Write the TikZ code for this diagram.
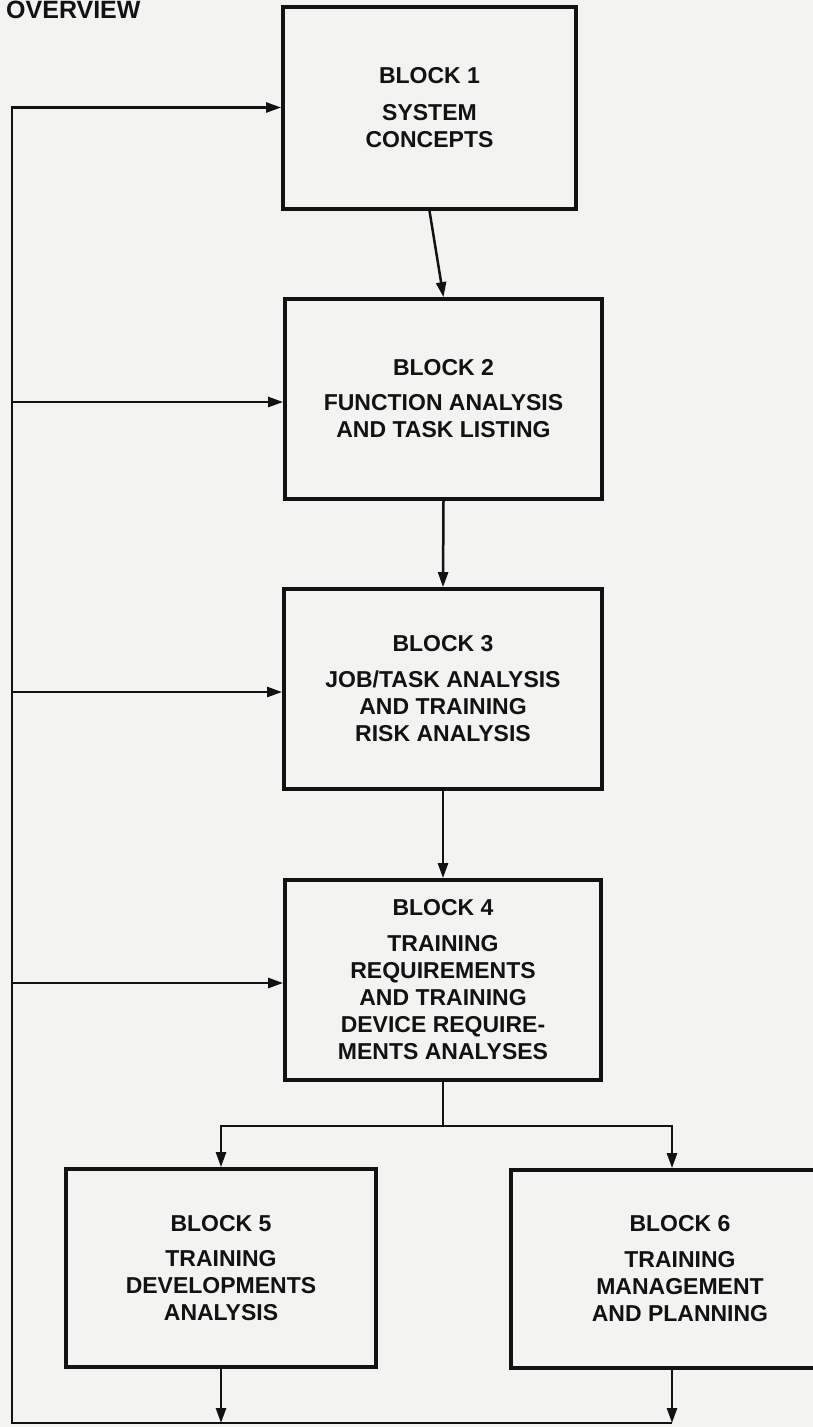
\documentclass[tikz,border=0pt]{standalone}
\usepackage{fontspec}
\setmainfont{Liberation Sans}
\usetikzlibrary{arrows.meta,calc}
\definecolor{ink}{RGB}{18,18,18}
\definecolor{paper}{RGB}{243,243,241}
\newcommand\blockfont{\fontsize{23}{27}\selectfont\bfseries}
\tikzset{
  blk/.style={draw=ink, line width=3.8pt, align=center, font=\blockfont, inner sep=0pt, text=ink},
  con/.style={draw=ink, line width=2.5pt},
  arr/.style={con, -{Triangle[length=15pt,width=10pt]}},
}
\begin{document}
\begin{tikzpicture}[x=1pt,y=-1pt]
\useasboundingbox (0,0) rectangle (813,1427);
\clip (0,0) rectangle (813,1427);
\fill[paper] (0,0) rectangle (813,1427);

\node[anchor=base west, font=\fontsize{25}{30}\selectfont\bfseries, text=ink, inner sep=0pt] (ov) at (6,18.5) {OVERVIEW};

\node[blk, minimum width=293pt, minimum height=202pt] (b1) at (429.5,108) {BLOCK 1\\[10pt]SYSTEM\\CONCEPTS};
\node[blk, minimum width=317pt, minimum height=200pt] (b2) at (443.5,399) {BLOCK 2\\[8pt]FUNCTION ANALYSIS\\AND TASK LISTING};
\node[blk, minimum width=318pt, minimum height=200pt] (b3) at (443,689) {BLOCK 3\\[9pt]JOB/TASK ANALYSIS\\AND TRAINING\\RISK ANALYSIS};
\node[blk, minimum width=316pt, minimum height=200pt] (b4) at (443,980) {BLOCK 4\\[9pt]TRAINING\\REQUIREMENTS\\AND TRAINING\\DEVICE REQUIRE-\\MENTS ANALYSES};
\node[blk, minimum width=310pt, minimum height=198pt] (b5) at (221,1268) {BLOCK 5\\[8pt]TRAINING\\DEVELOPMENTS\\ANALYSIS};
\node[blk, minimum width=338pt, minimum height=198pt] (b6) at (680,1269) {BLOCK 6\\[9pt]TRAINING\\MANAGEMENT\\AND PLANNING};

% main flow
\draw[arr] (b1.south) -- (b2.north);
\draw[arr] (b2.south) -- (b3.north);
\draw[arr] (b3.south) -- (b4.north);

% split to blocks 5 and 6
\coordinate (sp) at (443,1126);
\coordinate (s5) at (221,1126);
\coordinate (s6) at (672,1126);
\draw[con] (b4.south) -- (sp);
\draw[con, line cap=rect] (s5) -- (s6);
\draw[arr] (s5) -- (b5.north);
\draw[arr] (s6) -- (s6 |- b6.north);

% feedback loop
\coordinate (e5) at (221,1423);
\coordinate (e6) at (672,1423);
\coordinate (lb) at (12,1423);
\coordinate (lt) at (12,107.5);
\draw[arr] (b5.south) -- (e5);
\draw[arr] (s6 |- b6.south) -- (e6);
\draw[arr, line join=miter] (e6) -- (lb) -- (lt) -- (b1.west |- lt);

\coordinate (r2) at (12,402);
\coordinate (r3) at (12,692);
\coordinate (r4) at (12,983);
\draw[arr] (r2) -- (b2.west |- r2);
\draw[arr] (r3) -- (b3.west |- r3);
\draw[arr] (r4) -- (b4.west |- r4);
\end{tikzpicture}
\end{document}
